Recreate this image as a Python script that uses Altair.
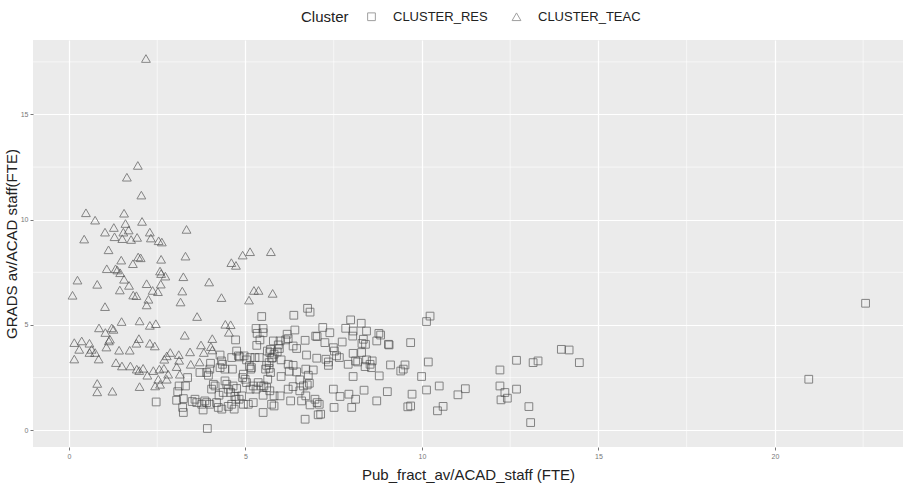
import altair as alt
import pandas as pd

# ---- data ----
res_x = [22.57, 20.96, 13.95, 14.17, 14.46, 13.15, 13.29, 12.68, 12.21, 12.21, 12.35, 12.42, 12.24, 12.68,
         13.03, 13.08, 11.02, 11.23, 10.44, 10.60, 10.49, 10.13, 9.72, 9.60, 9.68, 10.23, 10.13, 8.78, 8.83,
         9.05, 9.07, 9.68, 8.43, 8.39, 8.57, 8.53, 9.11, 9.52, 9.47, 9.40, 10.18, 8.79, 9.99, 8.36, 9.02, 8.72,
         5.46, 6.37, 6.76, 6.83, 5.30, 5.50, 5.33, 5.50, 6.18, 6.40, 6.21, 4.72, 5.41, 5.79, 5.98, 5.32, 5.93,
         6.14, 6.69, 7.03, 7.19, 7.39, 7.74, 7.84, 7.98, 8.28, 8.05, 8.04, 8.43, 8.34, 8.40, 8.30, 8.72, 6.35,
         6.45, 6.73, 7.02, 7.28, 7.35, 7.49, 7.52, 7.58, 7.35, 7.66, 7.91, 8.05, 8.12, 8.18, 8.29, 8.59, 8.05,
         7.49, 7.68, 7.93, 8.12, 7.51, 7.06, 7.13, 6.69, 6.97, 7.03, 7.09, 6.83, 6.59, 6.71, 6.54, 6.21, 6.35,
         6.28, 6.54, 6.64, 6.75, 6.81, 6.78, 6.92, 6.71, 6.45, 6.24, 6.01, 6.21, 6.35, 5.98, 5.81, 5.74, 5.81,
         5.50, 5.69, 5.50, 5.60, 5.44, 5.52, 5.22, 5.36, 5.30, 5.63, 5.71, 5.57, 5.67, 5.60, 5.67, 5.74, 5.77,
         5.81, 5.69, 5.62, 5.71, 5.90, 5.96, 6.01, 5.39, 5.17, 5.15, 5.11, 4.94, 4.99, 4.92, 5.03, 5.13, 5.27,
         5.13, 4.96, 5.03, 4.75, 4.80, 4.84, 4.61, 4.63, 4.28, 4.32, 4.35, 4.28, 4.42, 4.42, 4.47, 4.65, 4.51,
         4.58, 4.37, 4.25, 4.14, 4.09, 4.04, 3.95, 3.99, 3.90, 4.70, 4.73, 4.82, 4.89, 4.94, 5.08, 5.22, 4.18,
         4.23, 4.33, 4.51, 4.61, 4.68, 3.99, 3.90, 3.85, 3.92, 3.76, 6.99, 7.25, 8.01, 4.01, 3.71, 3.36, 3.12,
         3.30, 3.08, 3.05, 3.24, 3.22, 3.24, 2.47, 3.57, 3.62, 3.49, 3.80, 4.75]
res_y = [6.03, 2.42, 3.84, 3.81, 3.21, 3.21, 3.29, 3.32, 2.86, 2.10, 1.79, 1.52, 1.44, 1.95,
         1.12, 0.36, 1.68, 1.97, 0.92, 1.13, 2.10, 1.91, 1.71, 1.11, 1.15, 5.42, 5.16, 4.60, 4.52,
         4.08, 4.05, 4.16, 3.34, 3.02, 2.97, 3.13, 3.10, 3.10, 2.90, 2.81, 3.24, 2.58, 2.55, 1.90, 1.83, 1.39,
         5.40, 5.46, 5.79, 5.61, 4.83, 4.83, 4.60, 4.63, 4.56, 4.76, 4.35, 4.29, 4.29, 4.24, 4.24, 4.03, 4.05,
         4.29, 4.27, 4.45, 4.88, 4.63, 4.19, 4.84, 5.24, 5.08, 4.71, 4.47, 4.71, 4.32, 4.08, 4.12, 4.24, 4.00,
         3.88, 3.57, 3.42, 3.37, 3.24, 3.92, 3.76, 3.53, 3.08, 3.45, 3.13, 3.65, 3.29, 3.24, 3.69, 3.29, 2.55,
         1.95, 1.60, 1.71, 1.47, 1.08, 0.73, 0.76, 0.52, 1.47, 1.31, 1.23, 1.20, 1.39, 1.63, 1.87, 1.95, 2.07,
         1.39, 2.39, 2.10, 2.15, 2.23, 2.61, 2.86, 2.90, 2.77, 2.80, 2.55, 3.13, 3.08, 1.63, 1.63, 1.23, 1.15,
         0.84, 1.87, 1.66, 2.02, 2.10, 2.10, 2.10, 2.26, 1.95, 2.42, 2.74, 2.90, 2.94, 3.08, 3.21, 3.42, 3.45,
         3.61, 3.69, 3.76, 3.84, 3.72, 3.88, 3.34, 3.45, 2.97, 2.90, 3.05, 2.66, 2.42, 2.50, 2.26, 1.95, 3.45,
         3.45, 3.53, 3.34, 3.76, 3.53, 3.48, 3.45, 2.90, 3.57, 3.29, 3.13, 2.97, 2.90, 2.34, 2.18, 2.10, 1.95,
         1.79, 1.79, 1.66, 2.10, 2.18, 1.95, 2.61, 2.90, 2.74, 1.60, 1.47, 1.47, 1.63, 1.23, 1.23, 1.31, 1.31,
         1.08, 1.00, 1.13, 1.23, 1.00, 1.23, 1.31, 1.39, 0.08, 1.23, 4.47, 4.16, 1.08, 3.18, 2.74, 2.50, 2.10,
         2.10, 1.83, 1.42, 1.50, 1.08, 0.84, 1.34, 1.47, 1.31, 1.36, 0.96, 1.98]

teac_x = [2.18, 1.95, 1.64, 2.05, 0.48, 1.56, 0.74, 2.07, 1.60, 1.27, 1.69, 2.29, 3.33, 1.02, 1.54, 1.29,
          0.43, 1.51, 1.76, 1.93, 2.32, 2.54, 2.63, 1.12, 1.48, 1.96, 2.03, 2.61, 3.30, 1.81, 1.32, 1.37,
          1.07, 1.45, 2.58, 2.61, 2.73, 4.60, 4.73, 0.24, 0.80, 1.56, 1.70, 2.20, 2.60, 3.24, 3.97, 1.44,
          2.37, 2.52, 3.21, 0.10, 1.82, 1.91, 4.32, 2.25, 3.16, 2.20, 1.02, 3.63, 1.49, 2.00, 2.29, 2.46,
          0.85, 1.21, 1.26, 4.43, 4.58, 4.53, 1.03, 3.28, 1.16, 1.13, 1.98, 1.91, 0.15, 0.36, 0.58, 2.29,
          2.43, 1.06, 0.29, 0.64, 1.42, 1.72, 3.74, 4.06, 4.02, 0.58, 0.74, 0.84, 0.15, 2.87, 2.77, 3.11,
          3.43, 3.82, 4.06, 2.70, 3.12, 1.33, 1.50, 1.74, 1.92, 1.99, 2.10, 2.22, 2.39, 2.56, 2.69, 2.81,
          3.05, 3.14, 3.45, 3.70, 2.53, 2.77, 2.44, 2.58, 2.00, 0.80, 0.80, 1.23, 4.92, 5.13, 5.72, 5.24,
          5.37, 5.77, 5.10]
teac_y = [17.66, 12.58, 12.02, 11.17, 10.33, 10.31, 9.98, 9.92, 9.82, 9.63, 9.51, 9.41, 9.54, 9.41, 9.41, 9.19,
          9.08, 9.10, 9.06, 9.16, 9.13, 9.00, 8.94, 8.57, 8.08, 8.23, 8.19, 8.12, 8.27, 7.91, 7.67, 7.61,
          7.67, 7.48, 7.56, 7.44, 7.32, 7.96, 7.83, 7.13, 6.93, 7.17, 6.88, 6.96, 6.94, 7.29, 7.04, 6.66,
          6.64, 6.58, 6.61, 6.41, 6.42, 6.39, 6.30, 6.22, 6.09, 5.95, 5.87, 5.40, 5.16, 5.19, 4.98, 5.06,
          4.86, 4.86, 4.79, 5.03, 5.01, 4.65, 4.64, 4.51, 4.32, 4.24, 4.35, 4.13, 4.16, 4.24, 4.13, 4.13,
          4.00, 3.95, 3.84, 3.84, 3.80, 3.80, 4.05, 4.35, 3.97, 3.69, 3.69, 3.38, 3.38, 3.69, 3.53, 3.59,
          3.72, 3.69, 3.81, 3.37, 3.32, 3.21, 3.05, 3.05, 2.90, 2.83, 2.94, 2.61, 2.83, 2.90, 2.94, 2.66,
          3.02, 2.66, 3.13, 3.24, 2.42, 2.42, 2.10, 2.18, 2.07, 2.22, 1.82, 1.85, 8.32, 8.48, 8.48, 6.64,
          6.64, 6.50, 6.18]

clusters = ["CLUSTER_RES", "CLUSTER_TEAC"]
x_ticks = [0, 5, 10, 15, 20]
y_ticks = [0, 5, 10, 15]
minor_x = [2.5, 7.5, 12.5, 17.5, 22.5]
minor_y = [2.5, 7.5, 12.5, 17.5]

df = pd.DataFrame({
    "x": res_x + teac_x,
    "y": res_y + teac_y,
    "Cluster": [clusters[0]] * len(res_x) + [clusters[1]] * len(teac_x),
})

FONT = "Liberation Sans"

x_enc = alt.X("x:Q",
              scale=alt.Scale(domain=[-1.02, 23.63], nice=False, zero=False),
              axis=alt.Axis(values=x_ticks, title="Pub_fract_av/ACAD_staff (FTE)"))
y_enc = alt.Y("y:Q",
              scale=alt.Scale(domain=[-0.80, 18.54], nice=False, zero=False),
              axis=alt.Axis(values=y_ticks, title="GRADS  av/ACAD  staff(FTE)"))

minor_x_layer = alt.Chart(pd.DataFrame({"x": minor_x})).mark_rule(
    color="white", strokeWidth=0.6).encode(x=x_enc)
minor_y_layer = alt.Chart(pd.DataFrame({"y": minor_y})).mark_rule(
    color="white", strokeWidth=0.6).encode(y=y_enc)

legend = alt.Legend(
    orient="none", legendX=268, legendY=-30, direction="horizontal",
    titleOrient="left", title="Cluster", titleFontSize=15,
    titleFontWeight="normal", titleColor="#222", titleFont=FONT,
    titlePadding=16, labelFont=FONT, labelFontSize=13, labelColor="#222",
    symbolSize=100, symbolStrokeWidth=1, symbolStrokeColor="#666",
    symbolFillColor="transparent", labelOffset=15, columnPadding=22)

points = alt.Chart(df).mark_point(
    filled=False, strokeWidth=1, color="#444", opacity=0.62
).encode(
    x=x_enc,
    y=y_enc,
    shape=alt.Shape("Cluster:N",
                    scale=alt.Scale(domain=clusters, range=["square", "triangle-up"]),
                    legend=legend),
    size=alt.Size("Cluster:N",
                  scale=alt.Scale(domain=clusters, range=[60, 78]),
                  legend=legend),
)

chart = alt.layer(minor_x_layer, minor_y_layer, points).properties(
    width=870, height=407,
    autosize=alt.AutoSizeParams(type="none"),
    padding={"left": 33, "top": 40, "right": 0, "bottom": 39},
    background="white",
).configure_view(
    fill="#EBEBEB", stroke=None
).configure_axis(
    grid=True, gridColor="white", gridWidth=1.2, domain=False,
    tickColor="#555", tickSize=3, tickWidth=0.8,
    labelColor="#777", labelFontSize=7, labelFont=FONT, labelPadding=2,
    titleFont=FONT, titleFontSize=15, titleFontWeight="normal", titleColor="#222",
).configure_axisX(titlePadding=8).configure_axisY(titlePadding=1)

chart.save("out.html", embed_options={"renderer": "svg", "actions": False})
